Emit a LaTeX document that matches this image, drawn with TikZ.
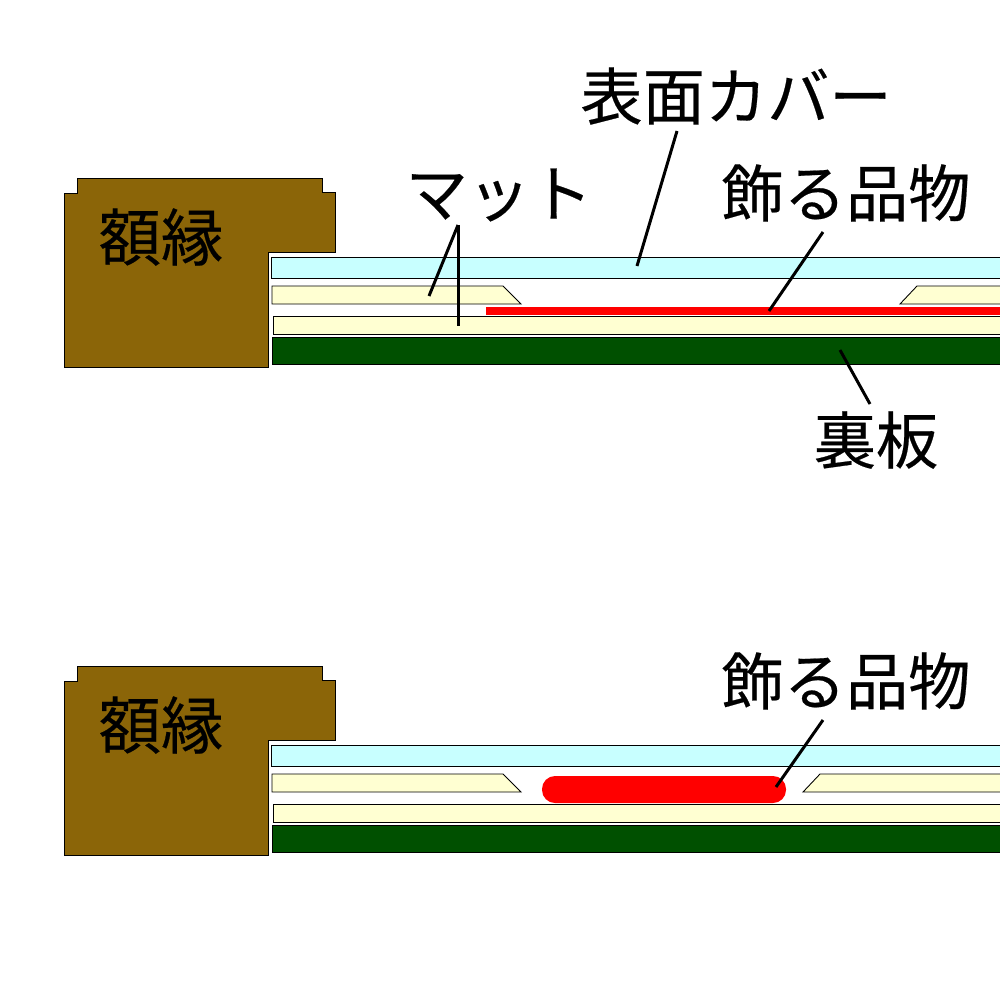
\documentclass[tikz,border=0pt]{standalone}
\usepackage{fontspec}
\setmainfont[FakeBold=0.35]{Noto Sans CJK JP}
\definecolor{framebrown}{HTML}{8B6508}
\definecolor{coverblue}{HTML}{C8FFFF}
\definecolor{matcream}{HTML}{FFFFD2}
\definecolor{boardgreen}{HTML}{005000}
\begin{document}
\begin{tikzpicture}[x=0.01cm,y=-0.01cm,
  outline/.style={draw=black,line width=0.25pt},
  frame part/.style={outline,fill=framebrown},
  cover part/.style={outline,fill=coverblue},
  mat part/.style={outline,fill=matcream},
  board part/.style={outline,fill=boardgreen},
  leader/.style={draw=black,line width=0.85pt},
  label node/.style={font=\fontsize{17.7pt}{18pt}\selectfont,inner sep=0pt}]
  \useasboundingbox (0,0) rectangle (1000,1000);

  % upper section
  \draw[frame part] (64.5,193) -- (77.5,193) -- (77.5,178.5) -- (322.5,178.5) -- (322.5,192) -- (335.5,192)
    -- (335.5,252) -- (268,252) -- (268,367.5) -- (64.5,367.5) -- cycle;
  \draw[cover part] (271,257) rectangle (1003,278);
  \draw[mat part] (272,286) -- (503,286) -- (521,304) -- (272,304) -- cycle;
  \draw[mat part] (1003,286) -- (917,286) -- (900,304) -- (1003,304) -- cycle;
  \draw[mat part] (273,316) rectangle (1003,334);
  \fill[red] (486,307) rectangle (1003,315);
  \draw[board part] (272,337) rectangle (1003,364);

  % lower section
  \draw[frame part] (64.5,681) -- (77.5,681) -- (77.5,666.5) -- (322.5,666.5) -- (322.5,680) -- (335.5,680)
    -- (335.5,740) -- (268,740) -- (268,855.5) -- (64.5,855.5) -- cycle;
  \draw[cover part] (271,745) rectangle (1003,766);
  \draw[mat part] (272,774) -- (503,774) -- (521,792) -- (272,792) -- cycle;
  \draw[mat part] (1003,774) -- (820,774) -- (803,792) -- (1003,792) -- cycle;
  \draw[mat part] (273,804) rectangle (1003,822);
  \fill[red,rounded corners=0.13cm] (542,776) rectangle (786,803);
  \draw[board part] (272,825) rectangle (1003,852);

  % labels
  \node[label node] (frame1) at (161,237) {額縁};
  \node[label node] (cover) at (736,96) {表面カバー};
  \node[label node] (mat) at (499,195) {マット};
  \node[label node] (item1) at (846,193) {飾る品物};
  \node[label node] (board) at (876,440) {裏板};
  \node[label node] (frame2) at (161,725) {額縁};
  \node[label node] (item2) at (846,681) {飾る品物};

  % leader ends
  \coordinate (cover from) at (677,131);
  \coordinate (cover to) at (637,266);
  \coordinate (mat from) at (458,225);
  \coordinate (mat to1) at (429,296);
  \coordinate (mat to2) at (458,326);
  \coordinate (item1 from) at (823,232);
  \coordinate (item1 to) at (769,311);
  \coordinate (board from) at (870,404);
  \coordinate (board to) at (840,350);
  \coordinate (item2 from) at (823,720);
  \coordinate (item2 to) at (776,787);

  \path[leader]
    (cover from) edge (cover to)
    (mat from) edge (mat to1)
    (mat from) edge (mat to2)
    (item1 from) edge (item1 to)
    (board from) edge (board to)
    (item2 from) edge (item2 to);
\end{tikzpicture}
\end{document}
